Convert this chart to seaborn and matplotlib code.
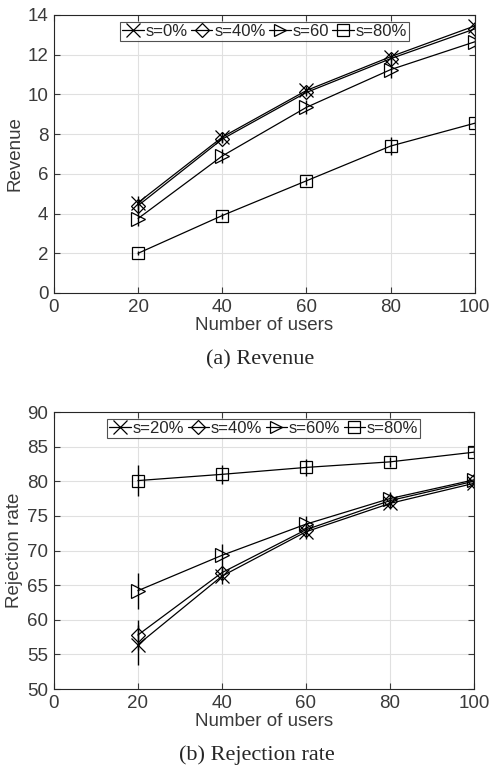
import numpy as np
import pandas as pd
import seaborn as sns
import matplotlib.pyplot as plt

sns.set_style("whitegrid")
plt.rcParams['font.family'] = ['Liberation Sans', 'DejaVu Sans']

users = [20, 40, 60, 80, 100]

# (a) revenue
rev_labels = ["s=0%", "s=40%", "s=60", "s=80%"]
rev_s0 = [4.55, 7.85, 10.2, 11.9, 13.45]
rev_s40 = [4.4, 7.75, 10.1, 11.8, 13.3]
rev_s60 = [3.75, 6.9, 9.35, 11.25, 12.65]
rev_s80 = [2.0, 3.9, 5.65, 7.4, 8.55]
rev_err = [
    [0.35, 0.25, 0.2, 0.2, 0.15],
    [0.3, 0.2, 0.2, 0.2, 0.15],
    [0.4, 0.35, 0.35, 0.4, 0.3],
    [0.1, 0.15, 0.2, 0.45, 0.2],
]

# (b) rejection rate
rej_labels = ["s=20%", "s=40%", "s=60%", "s=80%"]
rej_s20 = [56.4, 66.3, 72.7, 76.8, 79.7]
rej_s40 = [57.8, 66.8, 73.0, 77.2, 80.0]
rej_s60 = [64.2, 69.3, 73.8, 77.5, 80.2]
rej_s80 = [80.1, 81.0, 82.0, 82.8, 84.2]
rej_err = [
    [2.9, 1.2, 1.0, 0.8, 0.6],
    [2.2, 1.0, 0.9, 0.7, 0.5],
    [2.6, 1.6, 1.2, 0.9, 0.7],
    [2.2, 1.4, 1.2, 0.7, 0.4],
]

markers = ["x", "D", ">", "s"]
msizes = [10, 7.5, 9.5, 8.5]


def draw(ax, series, labels, errs, ylim, yticks):
    for vals, lab, err, m, ms in zip(series, labels, errs, markers, msizes):
        df = pd.DataFrame({"users": users, "val": vals})
        sns.lineplot(data=df, x="users", y="val", ax=ax, color="black",
                     linewidth=0.9, marker=m, markersize=ms,
                     markerfacecolor="none", markeredgecolor="black",
                     markeredgewidth=0.9, label=lab)
        ax.errorbar(users, vals, yerr=err, fmt="none", ecolor="black",
                    elinewidth=1.0, capsize=0)
    ax.set_xlim(0, 100)
    ax.set_ylim(*ylim)
    ax.set_xticks([0, 20, 40, 60, 80, 100])
    ax.set_yticks(yticks)
    ax.set_xlabel("Number of users", fontsize=13.5, color="#3a3a3a", labelpad=1)
    ax.tick_params(direction="in", length=4, labelsize=13.5, colors="#3a3a3a",
                   pad=4, top=True, right=True, bottom=True, left=True)
    ax.grid(True, color="#e0e0e0", linewidth=0.8)
    for sp in ax.spines.values():
        sp.set_color("#262626")
        sp.set_linewidth(0.8)
    leg = ax.legend(loc="upper center", ncol=4, fontsize=12, frameon=True,
                    fancybox=False, edgecolor="#262626", handlelength=1.3,
                    handletextpad=0.1, columnspacing=0.2, borderpad=0.12,
                    borderaxespad=0.4, markerscale=0.95)
    leg.get_frame().set_linewidth(0.8)


fig = plt.figure(figsize=(4.9, 7.69), dpi=100)
ax1 = fig.add_axes([0.110, 0.619, 0.859, 0.3615])
ax2 = fig.add_axes([0.110, 0.104, 0.857, 0.3602])

draw(ax1, [rev_s0, rev_s40, rev_s60, rev_s80], rev_labels, rev_err,
     (0, 14), [0, 2, 4, 6, 8, 10, 12, 14])
ax1.set_ylabel("Revenue", fontsize=13.5, color="#3a3a3a", labelpad=3)

draw(ax2, [rej_s20, rej_s40, rej_s60, rej_s80], rej_labels, rej_err,
     (50, 90), [50, 55, 60, 65, 70, 75, 80, 85, 90])
ax2.set_ylabel("Rejection rate", fontsize=13.5, color="#3a3a3a", labelpad=3)

fig.text(0.53, 1 - 360 / 769, "(a) Revenue", ha="center", va="center",
         fontsize=16, family="Liberation Serif")
fig.text(0.525, 1 - 755 / 769, "(b) Rejection rate", ha="center", va="center",
         fontsize=16, family="Liberation Serif")

fig.savefig("out.png", dpi=100)
